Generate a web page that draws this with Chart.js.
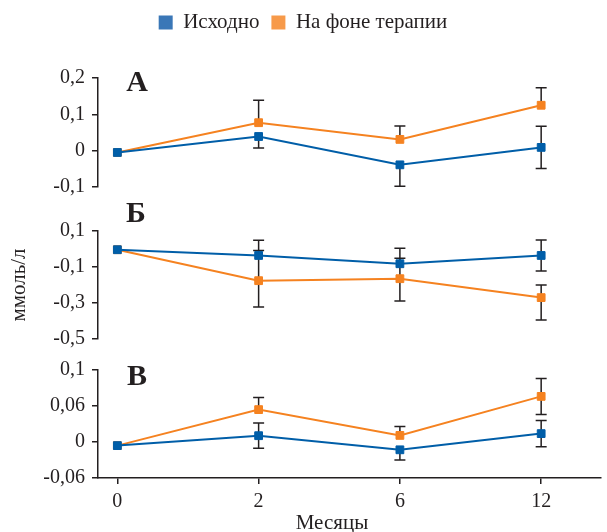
<!DOCTYPE html>
<html>
<head>
<meta charset="utf-8">
<script src="https://cdn.jsdelivr.net/npm/chart.js@4.4.0/dist/chart.umd.min.js"></script>
<style>
  body { margin: 0; background: #fff; }
  #wrap { position: relative; width: 607px; height: 532px; }
  #wrap canvas { position: absolute; left: 0; top: 0; }
</style>
</head>
<body>
<div id="wrap">
  <canvas id="chartA" width="607" height="532"></canvas>
  <canvas id="chartB" width="607" height="532"></canvas>
  <canvas id="chartC" width="607" height="532"></canvas>
</div>
<script>
// months on the shared x axis
const months = ['0', '2', '6', '12'];
const seriesNames = ['Исходно', 'На фоне терапии'];

// panel A
const aBase = [-0.005, 0.039, -0.039, 0.009];
const aTher = [-0.005, 0.077, 0.031, 0.125];
const aBaseErrUp = [0, 0, 0, 0.058];
const aBaseErrDown = [0, 0.032, 0.059, 0.058];
const aTherErrUp = [0, 0.062, 0.037, 0.048];
const aTherErrDown = [0, 0, 0, 0];
const aTicks = [-0.1, 0, 0.1, 0.2];
const aTickLabels = ['-0,1', '0', '0,1', '0,2'];

// panel Б
const bBase = [-0.004, -0.036, -0.082, -0.036];
const bTher = [-0.004, -0.176, -0.165, -0.27];
const bBaseErrUp = [0, 0.084, 0.086, 0.086];
const bBaseErrDown = [0, 0, 0, 0.086];
const bTherErrUp = [0, 0.168, 0.113, 0.07];
const bTherErrDown = [0, 0.146, 0.124, 0.124];
const bTicks = [-0.5, -0.4, -0.3, -0.2, -0.1, 0, 0.1];
const bTickLabels = ['-0,5', '', '-0,3', '', '-0,1', '', '0,1'];

// panel В
const cBase = [-0.006, 0.0105, -0.013, 0.014];
const cTher = [-0.006, 0.054, 0.011, 0.076];
const cBaseErrUp = [0, 0.021, 0, 0.022];
const cBaseErrDown = [0, 0.021, 0.017, 0.022];
const cTherErrUp = [0, 0.02, 0.015, 0.03];
const cTherErrDown = [0, 0, 0, 0.03];
const cTicks = [-0.06, 0, 0.06, 0.12];
const cTickLabels = ['-0,06', '0', '0,06', '0,1'];

const BLUE = '#005ea8';
const ORANGE = '#f58220';
const legendColors = ['#3a77b7', '#f79a4a'];
const INK = '#231f20';

Chart.defaults.font.family = '"Liberation Serif", serif';
Chart.defaults.font.size = 20;
Chart.defaults.color = INK;

// vertical error bars, drawn under the markers
const errorBars = {
  id: 'errorBars',
  beforeDatasetsDraw(chart) {
    const ctx = chart.ctx;
    const xs = chart.scales.x, ys = chart.scales.y;
    ctx.save();
    ctx.strokeStyle = INK;
    ctx.lineWidth = 1.5;
    chart.data.datasets.forEach(ds => {
      ds.data.forEach((p, i) => {
        const px = xs.getPixelForValue(p.x);
        [[ds.errUp[i], 1], [ds.errDown[i], -1]].forEach(([e, s]) => {
          if (!e) return;
          const y0 = ys.getPixelForValue(p.y);
          const y1 = ys.getPixelForValue(p.y + s * e);
          ctx.beginPath();
          ctx.moveTo(px, y0);
          ctx.lineTo(px, y1);
          ctx.moveTo(px - 5.5, y1);
          ctx.lineTo(px + 5.5, y1);
          ctx.stroke();
        });
      });
    });
    ctx.restore();
  }
};

// panel letters and the shared x title
const extraText = {
  id: 'extraText',
  afterDraw(chart, args, opts) {
    const ctx = chart.ctx;
    ctx.save();
    ctx.fillStyle = INK;
    ctx.textAlign = 'center';
    ctx.textBaseline = 'middle';
    (opts.items || []).forEach(it => {
      ctx.font = it.font;
      ctx.fillText(it.text, it.x, it.y);
    });
    ctx.restore();
  }
};

// push the plot below the legend (only where the legend is shown)
const legendGap = {
  id: 'legendGap',
  beforeInit(chart) {
    if (!chart.legend) return;
    const fit = chart.legend.fit;
    chart.legend.fit = function () {
      fit.bind(chart.legend)();
      if (this.options.display) this.height = 78;
    };
  }
};

function series(base, ther, bUp, bDown, tUp, tDown) {
  return [
    { label: seriesNames[0], data: base.map((v, i) => ({ x: i, y: v })), errUp: bUp, errDown: bDown,
      borderColor: BLUE, backgroundColor: BLUE, pointBackgroundColor: BLUE },
    { label: seriesNames[1], data: ther.map((v, i) => ({ x: i, y: v })), errUp: tUp, errDown: tDown,
      borderColor: ORANGE, backgroundColor: ORANGE, pointBackgroundColor: ORANGE }
  ];
}

function xScale(show) {
  return {
    type: 'linear',
    display: show,
    min: -0.137,
    max: 3.42,
    afterBuildTicks: s => { s.ticks = months.map((m, i) => ({ value: i })); },
    ticks: { callback: (v, i) => months[i], padding: 6, maxRotation: 0 },
    grid: { drawOnChartArea: false, drawTicks: true, tickLength: 6, color: INK, lineWidth: 1.5 },
    border: { display: true, color: INK, width: 1.5 }
  };
}

function yScale(ticks, labels, title) {
  return {
    type: 'linear',
    min: ticks[0],
    max: ticks[ticks.length - 1],
    afterBuildTicks: s => { s.ticks = ticks.map(v => ({ value: v })); },
    afterFit: s => { s.width = 98; },
    ticks: { callback: (v, i) => labels[i], padding: 7 },
    grid: { drawOnChartArea: false, drawTicks: true, tickLength: 6, color: INK, lineWidth: 1.5 },
    border: { display: true, color: INK, width: 1.5 },
    title: title ? { display: true, text: title, font: { size: 21 }, padding: { top: 7, bottom: 0 } } : { display: false }
  };
}

function makeChart(id, datasets, y, x, padding, showLegend, items) {
  return new Chart(document.getElementById(id), {
    type: 'line',
    data: { datasets: datasets },
    options: {
      responsive: false,
      animation: false,
      layout: { padding: padding },
      elements: {
        line: { borderWidth: 2, tension: 0 },
        point: { pointStyle: 'rect', radius: 5.5, borderWidth: 1 }
      },
      scales: { x: x, y: y },
      plugins: {
        tooltip: { enabled: false },
        legend: {
          display: showLegend,
          position: 'top',
          labels: {
            boxWidth: 14, boxHeight: 14, padding: 12,
            font: { size: 21 },
            generateLabels: chart => chart.data.datasets.map((ds, i) => ({
              text: ds.label, fillStyle: legendColors[i], strokeStyle: legendColors[i],
              lineWidth: 0, hidden: false, datasetIndex: i, fontColor: INK
            }))
          }
        },
        extraText: { items: items }
      }
    },
    plugins: [errorBars, extraText, legendGap]
  });
}

const letterFont = 'bold 30px "Liberation Serif"';

makeChart('chartA',
  series(aBase, aTher, aBaseErrUp, aBaseErrDown, aTherErrUp, aTherErrDown),
  yScale(aTicks, aTickLabels), xScale(false),
  { top: 0, bottom: 345, left: 0, right: 1 }, true,
  [{ text: 'А', x: 137, y: 83, font: letterFont }]);

makeChart('chartB',
  series(bBase, bTher, bBaseErrUp, bBaseErrDown, bTherErrUp, bTherErrDown),
  yScale(bTicks, bTickLabels, 'ммоль/л'), xScale(false),
  { top: 231, bottom: 193, left: 0, right: 1 }, false,
  [{ text: 'Б', x: 136, y: 214, font: letterFont }]);

makeChart('chartC',
  series(cBase, cTher, cBaseErrUp, cBaseErrDown, cTherErrUp, cTherErrDown),
  yScale(cTicks, cTickLabels), xScale(true),
  { top: 370, bottom: 12, left: 0, right: 1 }, false,
  [{ text: 'В', x: 137, y: 377, font: letterFont },
   { text: 'Месяцы', x: 332, y: 523, font: '21px "Liberation Serif"' }]);
</script>
</body>
</html>
